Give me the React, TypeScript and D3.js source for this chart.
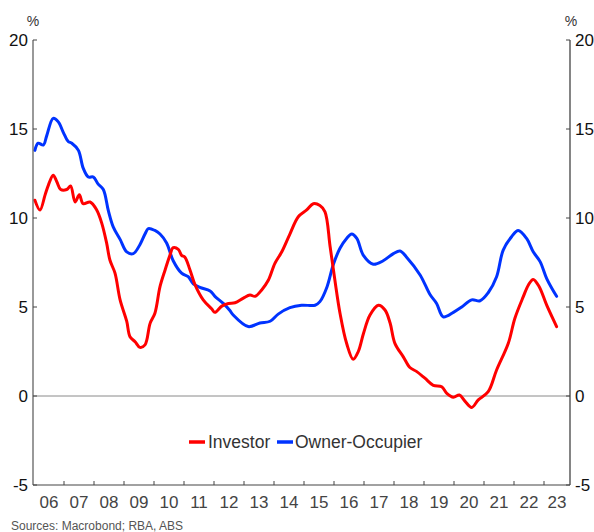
import React from "react";
import * as d3 from "d3";

const investorDates = [2006.03,2006.2,2006.37,2006.48,2006.64,2006.76,2006.89,2007.09,2007.22,2007.37,2007.51,2007.64,2007.87,2008.09,2008.26,2008.42,2008.53,2008.7,2008.87,2009.09,2009.2,2009.37,2009.53,2009.7,2009.87,2010.03,2010.2,2010.37,2010.53,2010.64,2010.81,2010.92,2011.03,2011.2,2011.37,2011.64,2011.92,2012.03,2012.26,2012.48,2012.7,2012.98,2013.2,2013.37,2013.59,2013.81,2014.03,2014.26,2014.53,2014.81,2015.09,2015.31,2015.53,2015.7,2015.87,2016.03,2016.2,2016.42,2016.64,2016.81,2016.98,2017.2,2017.48,2017.7,2017.87,2018.03,2018.31,2018.53,2018.76,2019.03,2019.31,2019.59,2019.76,2019.98,2020.18,2020.37,2020.59,2020.81,2021.14,2021.42,2021.81,2022.03,2022.31,2022.48,2022.64,2022.84,2023.09,2023.42];
const investorValues = [11.0,10.45,11.3,11.85,12.4,12.04,11.6,11.6,11.8,10.9,11.3,10.8,10.9,10.45,9.7,8.6,7.64,6.9,5.4,4.2,3.33,3.05,2.73,2.87,4.08,4.65,6.14,7.08,7.9,8.33,8.24,7.9,7.8,7.08,6.24,5.4,4.9,4.7,5.05,5.2,5.24,5.5,5.67,5.6,5.96,6.5,7.45,8.1,9.1,10.07,10.45,10.8,10.7,10.35,8.4,6.5,4.65,2.96,2.06,2.5,3.5,4.55,5.1,4.83,4.1,2.96,2.2,1.6,1.37,1.0,0.6,0.52,0.15,-0.07,0.06,-0.3,-0.64,-0.22,0.24,1.46,2.96,4.37,5.58,6.24,6.55,6.14,5.1,3.9];

const ownerDates = [2006.03,2006.14,2006.31,2006.42,2006.64,2006.81,2006.98,2007.14,2007.26,2007.48,2007.64,2007.81,2007.98,2008.14,2008.31,2008.48,2008.64,2008.87,2009.09,2009.31,2009.53,2009.7,2009.81,2010.03,2010.2,2010.42,2010.64,2010.92,2011.14,2011.31,2011.53,2011.87,2012.03,2012.31,2012.53,2012.64,2013.14,2013.53,2013.87,2014.14,2014.53,2014.92,2015.37,2015.53,2015.76,2015.98,2016.2,2016.42,2016.59,2016.76,2016.98,2017.31,2017.64,2017.98,2018.2,2018.42,2018.87,2019.2,2019.42,2019.64,2019.98,2020.26,2020.59,2020.87,2021.14,2021.42,2021.64,2021.92,2022.14,2022.42,2022.64,2022.87,2023.09,2023.42];
const ownerValues = [13.8,14.2,14.1,14.6,15.6,15.4,14.8,14.3,14.2,13.8,12.8,12.3,12.3,11.9,11.6,10.4,9.5,8.8,8.1,8.0,8.5,9.1,9.4,9.3,9.1,8.6,7.6,6.9,6.7,6.3,6.1,5.9,5.6,5.2,4.8,4.55,3.9,4.1,4.2,4.6,4.96,5.1,5.1,5.3,6.1,7.4,8.3,8.85,9.1,8.85,7.9,7.4,7.6,8.0,8.15,7.8,6.8,5.7,5.2,4.45,4.7,5.0,5.4,5.35,5.8,6.7,8.2,8.95,9.3,8.85,8.1,7.55,6.6,5.6];

const yTicks = [-5, 0, 5, 10, 15, 20];
const yearLabels = ["06","07","08","09","10","11","12","13","14","15","16","17","18","19","20","21","22","23"];
const seriesNames = ["Investor", "Owner-Occupier"];
const seriesColors = ["#ff0000", "#0033ff"];
const source = "Sources: Macrobond; RBA, ABS";

const W = 594, H = 532;
const L = 33, R = 570, T = 40, B = 485;
const FONT = "Arial, 'Liberation Sans', sans-serif";

export default function App() {
  const x = d3.scaleLinear().domain([2006 - 1 / 30, 2023 + 26 / 30]).range([L, R]);
  const y = d3.scaleLinear().domain([-5, 20]).range([B, T]);
  const line = d3
    .line<[number, number]>()
    .x((d) => x(d[0]))
    .y((d) => y(d[1]))
    .curve(d3.curveCatmullRom.alpha(0.5));
  const inv = investorDates.map((d, i) => [d, investorValues[i]] as [number, number]);
  const own = ownerDates.map((d, i) => [d, ownerValues[i]] as [number, number]);
  const yearStarts = d3.range(2007, 2024);
  const yearCenters = yearLabels.map((_, i) => {
    const a = Math.max(x.domain()[0], 2006 + i);
    const b = Math.min(x.domain()[1], 2007 + i);
    return x((a + b) / 2);
  });

  return (
    <svg width={W} height={H} style={{ position: "absolute", left: 0, top: 0, background: "#fff" }} fontFamily={FONT}>
      <rect x={0} y={0} width={W} height={H} fill="#fff" />
      {/* zero line */}
      <line x1={L} x2={R} y1={y(0)} y2={y(0)} stroke="#8a8a8a" strokeWidth={1} />
      {/* series */}
      <path d={line(own) || ""} fill="none" stroke={seriesColors[1]} strokeWidth={3} strokeLinejoin="round" strokeLinecap="round" />
      <path d={line(inv) || ""} fill="none" stroke={seriesColors[0]} strokeWidth={3} strokeLinejoin="round" strokeLinecap="round" />
      {/* axes */}
      <line x1={L} x2={L} y1={T} y2={B} stroke="#555" strokeWidth={1.2} />
      <line x1={R} x2={R} y1={T} y2={B} stroke="#333" strokeWidth={1.2} />
      <line x1={L} x2={R} y1={B} y2={B} stroke="#444" strokeWidth={1.2} />
      {yTicks.map((t) => (
        <g key={t}>
          <line x1={L} x2={L + 4} y1={y(t)} y2={y(t)} stroke="#444" />
          <line x1={R - 4} x2={R} y1={y(t)} y2={y(t)} stroke="#444" />
          <text x={L - 5} y={y(t)} dy="0.36em" textAnchor="end" fontSize={17} fill="#111">{t}</text>
          <text x={R + 5} y={y(t)} dy="0.36em" textAnchor="start" fontSize={17} fill="#111">{t}</text>
        </g>
      ))}
      <text x={L} y={26} textAnchor="middle" fontSize={14} fill="#333">%</text>
      <text x={R + 1} y={26} textAnchor="middle" fontSize={14} fill="#333">%</text>
      {yearStarts.map((yr) => (
        <line key={yr} x1={x(yr)} x2={x(yr)} y1={B} y2={B - 4} stroke="#444" />
      ))}
      {yearLabels.map((lab, i) => (
        <text key={lab} x={yearCenters[i]} y={508} textAnchor="middle" fontSize={17} fill="#444">{lab}</text>
      ))}
      {/* legend */}
      <g>
        <line x1={189} x2={205} y1={442} y2={442} stroke={seriesColors[0]} strokeWidth={3.5} />
        <text x={208} y={442} dy="0.36em" fontSize={17.5} fill="#333">{seriesNames[0]}</text>
        <line x1={277} x2={293} y1={442} y2={442} stroke={seriesColors[1]} strokeWidth={3.5} />
        <text x={295} y={442} dy="0.36em" fontSize={17.5} fill="#333">{seriesNames[1]}</text>
      </g>
      <text x={11} y={530} fontSize={12} fill="#555">{source}</text>
    </svg>
  );
}
